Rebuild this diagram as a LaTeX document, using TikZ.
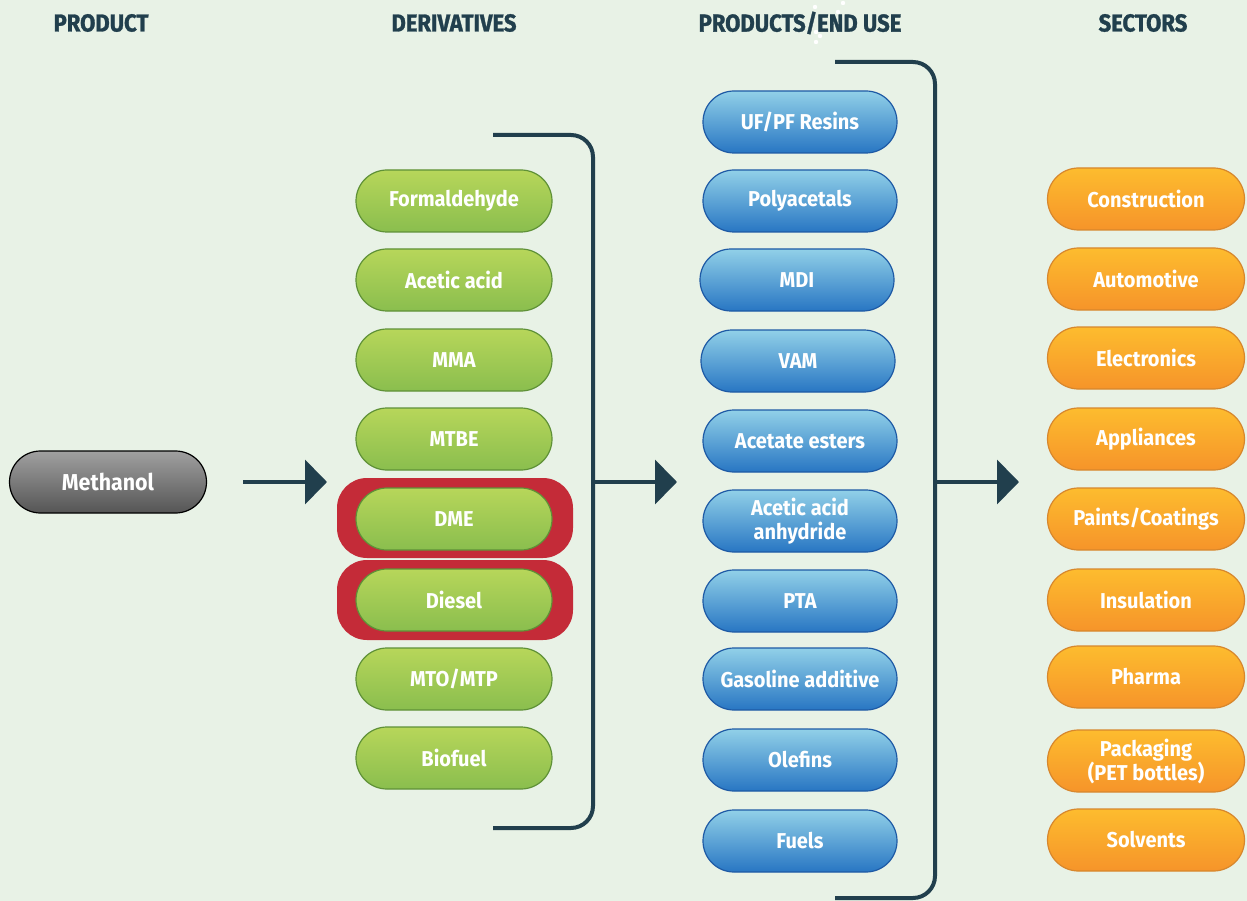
\documentclass[tikz,border=0pt]{standalone}
\usepackage{fontspec}
\setmainfont{Fira Sans}
\newfontfamily\cond[FakeStretch=0.93]{Fira Sans Bold}
\newfontfamily\headfont[FakeStretch=0.9,FakeBold=1.2]{Fira Sans Bold}
\usetikzlibrary{arrows.meta}
\definecolor{bg}{HTML}{E8F2E6}
\definecolor{ink}{HTML}{213F4D}
\definecolor{hl}{HTML}{C42B38}
\tikzset{
  pill/.style={rounded corners=31pt, minimum height=62pt, inner sep=0pt, align=center,
    text=white, font=\cond\fontsize{21.5}{24}\selectfont, line width=1.2pt},
  grey/.style={pill, minimum width=197pt, draw=black, top color={rgb,255:red,160;green,160;blue,160}, bottom color={rgb,255:red,85;green,85;blue,85}, font=\cond\fontsize{23}{26}\selectfont},
  gpill/.style={pill, minimum width=196pt, draw={rgb,255:red,95;green,145;blue,55}, top color={rgb,255:red,183;green,214;blue,90}, bottom color={rgb,255:red,138;green,190;blue,78}},
  bpill/.style={pill, minimum width=194pt, draw={rgb,255:red,30;green,90;blue,165}, top color={rgb,255:red,145;green,208;blue,232}, bottom color={rgb,255:red,40;green,118;blue,195}},
  opill/.style={pill, minimum width=197pt, draw={rgb,255:red,215;green,135;blue,45}, top color={rgb,255:red,253;green,188;blue,46}, bottom color={rgb,255:red,246;green,148;blue,42}},
  head/.style={text=ink, font=\headfont\fontsize{24.5}{27}\selectfont},
  hlbox/.style={fill=hl, rounded corners=30pt},
  brk/.style={draw=ink, line width=4pt, rounded corners=22pt},
  conn/.style={draw=ink, line width=4pt, -{Triangle[length=22pt,width=44pt]}},
}
\begin{document}
\begin{tikzpicture}[x=1pt,y=-1pt]
\fill[bg] (0,0) rectangle (1247,901);
\useasboundingbox (0,0) rectangle (1247,901);
% headers
\node[head] (h1) at (101,23) {PRODUCT};
\node[head] (h2) at (454,23) {DERIVATIVES};
\node[head] (h3) at (800,23) {PRODUCTS/END USE};
\node[head] (h4) at (1143,23) {SECTORS};
\foreach \p in {(815,7),(843,3),(838,12),(816,32),(820,36),(816,42)} \fill[white] \p circle (2.2pt);
% methanol
\node[grey] (meth) at (108,482) {Methanol};
\coordinate (a1s) at (243,482);
\coordinate (a1e) at (327,482);
\draw[conn] (a1s) -- (a1e);
% highlights
\fill[hlbox] (337,478) rectangle (573,558);
\fill[hlbox] (337,560) rectangle (573,640);
% derivatives
\node[gpill] (d1) at (454,201) {Formaldehyde};
\node[gpill] (d2) at (454,280) {Acetic acid};
\node[gpill] (d3) at (454,360) {MMA};
\node[gpill] (d4) at (454,439) {MTBE};
\node[gpill] (d5) at (454,519) {DME};
\node[gpill] (d6) at (454,600) {Diesel};
\node[gpill] (d7) at (454,679) {MTO/MTP};
\node[gpill] (d8) at (454,758) {Biofuel};
% bracket 1
\coordinate (b1a) at (493,135);
\coordinate (b1b) at (593,135);
\coordinate (b1c) at (593,828);
\coordinate (b1d) at (493,828);
\draw[brk] (b1a) -- (b1b) -- (b1c) -- (b1d);
\coordinate (a2s) at (593,482);
\coordinate (a2e) at (677,482);
\draw[conn] (a2s) -- (a2e);
% products
\node[bpill] (p1) at (800,122) {UF/PF Resins};
\node[bpill] (p2) at (800,201) {Polyacetals};
\node[bpill] (p3) at (797,280) {MDI};
\node[bpill] (p4) at (798,361) {VAM};
\node[bpill] (p5) at (800,441) {Acetate esters};
\node[bpill] (p6) at (800,521) {Acetic acid\\anhydride};
\node[bpill] (p7) at (800,601) {PTA};
\node[bpill] (p8) at (800,679) {Gasoline additive};
\node[bpill] (p9) at (800,760) {Olefins};
\node[bpill] (p10) at (800,841) {Fuels};
% bracket 2
\coordinate (b2a) at (835,62);
\coordinate (b2b) at (935,62);
\coordinate (b2c) at (935,898);
\coordinate (b2d) at (835,898);
\draw[brk] (b2a) -- (b2b) -- (b2c) -- (b2d);
\coordinate (a3s) at (935,482);
\coordinate (a3e) at (1019,482);
\draw[conn] (a3s) -- (a3e);
% sectors
\node[opill] (s1) at (1146,199) {Construction};
\node[opill] (s2) at (1146,279) {Automotive};
\node[opill] (s3) at (1146,358) {Electronics};
\node[opill] (s4) at (1146,439) {Appliances};
\node[opill] (s5) at (1146,519) {Paints/Coatings};
\node[opill] (s6) at (1146,600) {Insulation};
\node[opill] (s7) at (1146,677) {Pharma};
\node[opill] (s8) at (1146,761) {Packaging\\(PET bottles)};
\node[opill] (s9) at (1146,840) {Solvents};
\end{tikzpicture}
\end{document}
